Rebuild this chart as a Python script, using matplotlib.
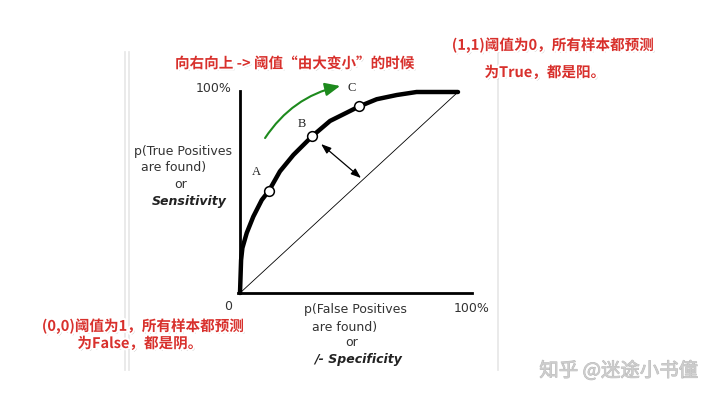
import numpy as np
import matplotlib
matplotlib.use('Agg')
import matplotlib.pyplot as plt
import matplotlib.patheffects as pe
from matplotlib.lines import Line2D

plt.rcParams['font.family'] = ['Noto Sans CJK SC', 'DejaVu Sans']

W, H = 720, 401

# ROC curve (FPR, TPR)
fpr = [0.0, 0.005, 0.011, 0.031, 0.061, 0.1, 0.133, 0.183, 0.245, 0.332,
       0.413, 0.489, 0.546, 0.627, 0.719, 0.81, 1.0]
tpr = [0.0, 0.164, 0.224, 0.299, 0.38, 0.463, 0.509, 0.605, 0.687, 0.781,
       0.856, 0.897, 0.928, 0.964, 0.985, 1.0, 1.0]

# marked thresholds
point_names = ['A', 'B', 'C']
point_x = [0.133, 0.332, 0.546]
point_y = [0.509, 0.781, 0.928]
label_offsets = [(-13, 19), (-11, 12), (-7, 18)]  # pixels

title_cn = '向右向上 -> 阈值“由大变小”的时候'
note_11 = ['(1,1)阈值为0，所有样本都预测', '为True，都是阳。']
note_00 = ['(0,0)阈值为1，所有样本都预测', '为False，都是阴。']
ylab_lines = ['p(True Positives', 'are found)', 'or', 'Sensitivity']
xlab_lines = ['p(False Positives', 'are found)', 'or', '/- Specificity']
watermark = '知乎 @迷途小书僮'


def px(x, y):
    return x / W, 1 - y / H


fig = plt.figure(figsize=(W / 100, H / 100), dpi=100)
fig.patch.set_facecolor('white')

# light grey frame lines of the screenshot
for xx in [124.5, 128.5, 498]:
    x0, y0 = px(xx, 52)
    x1, y1 = px(xx, 370)
    fig.add_artist(Line2D([x0, x1], [y0, y1], color='#e6e6e6', lw=1.2))

left, top = px(240, 92)
right, bottom = px(458, 293)
ax = fig.add_axes([left, bottom, right - left, top - bottom])
ax.set_xlim(0, 1)
ax.set_ylim(0, 1)
ax.axis('off')

# axes lines
ax.plot([0, 0], [0, 1.005], color='black', lw=2, clip_on=False)
ax.plot([-0.01, 1.065], [0, 0], color='black', lw=2, clip_on=False)
# chance diagonal
ax.plot([0, 1], [0, 1], color='black', lw=0.6, clip_on=False)
# ROC curve
ax.plot(fpr, tpr, color='black', lw=3.2, solid_joinstyle='round',
        solid_capstyle='round', clip_on=False, zorder=3)
ax.plot(point_x, point_y, 'o', ms=7, mfc='white', mec='black', mew=1.1,
        clip_on=False, zorder=4)
for name, x, y, off in zip(point_names, point_x, point_y, label_offsets):
    ax.annotate(name, (x, y), xytext=off, textcoords='offset pixels',
                ha='center', va='center', fontsize=9,
                family='Liberation Serif', color='#222')

# green direction arrow
ax.annotate('', xy=(0.459, 1.03), xytext=(0.115, 0.771),
            arrowprops=dict(arrowstyle='-|>,head_length=0.9,head_width=0.4',
                            color='#1d8a1d', lw=1.5,
                            connectionstyle='arc3,rad=-0.2',
                            shrinkA=0, shrinkB=0),
            annotation_clip=False)
# distance arrow
ax.annotate('', xy=(0.555, 0.572), xytext=(0.372, 0.741),
            arrowprops=dict(arrowstyle='<|-|>,head_length=0.6,head_width=0.22',
                            color='black', lw=0.9, shrinkA=0, shrinkB=0),
            annotation_clip=False)

# axis tick texts
ax_txt = dict(family='DejaVu Sans', fontsize=9, color='#333')
fig.text(*px(232, 88), '100%', ha='right', va='center', **ax_txt)
fig.text(*px(228, 306), '0', ha='center', va='center', **ax_txt)
fig.text(*px(472, 309), '100%', ha='center', va='center', **ax_txt)

ylab_pos = [(183, 152), (174, 168), (181, 184), (189, 201)]
xlab_pos = [(355, 310), (345, 327), (352, 343), (358, 359)]
for lines, poss in [(ylab_lines, ylab_pos), (xlab_lines, xlab_pos)]:
    for i, (t, p) in enumerate(zip(lines, poss)):
        if i == 3:
            fig.text(*px(*p), t, ha='center', va='center', family='DejaVu Sans',
                     fontsize=9, style='italic', weight='bold', color='#222')
        else:
            fig.text(*px(*p), t, ha='center', va='center', **ax_txt)

# red notes with white outline and shadow
red_fx = [pe.SimplePatchShadow(offset=(1.2, -1.2), shadow_rgbFace='#888', alpha=0.6),
          pe.Stroke(linewidth=3, foreground='white'), pe.Normal()]
red_txt = dict(color='#d8302c', fontsize=10.5, weight='bold', ha='center',
               va='center', path_effects=red_fx)
fig.text(*px(295, 63), title_cn, **red_txt)
fig.text(*px(553, 45), note_11[0], **red_txt)
fig.text(*px(545, 72), note_11[1], **red_txt)
fig.text(*px(143, 326), note_00[0], **red_txt)
fig.text(*px(140, 343), note_00[1], **red_txt)

# watermark
fig.text(*px(619, 371), watermark, ha='center', va='center', fontsize=14,
         color='#cdcdcd',
         path_effects=[pe.withStroke(linewidth=0.6, foreground='#b8b8b8')])

fig.savefig('out.png', dpi=100, facecolor='white')
